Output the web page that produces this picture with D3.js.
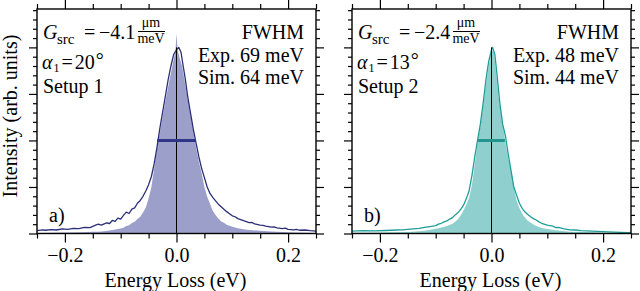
<!DOCTYPE html>
<html>
<head>
<meta charset="utf-8">
<script src="https://cdn.jsdelivr.net/npm/d3@7"></script>
<style>
  body { margin: 0; background: #fff; }
  svg { display: block; font-family: "Liberation Serif", "Times New Roman", serif; }
</style>
</head>
<body>
<div id="chart"></div>
<script>
var svgWidth = 640;
var svgHeight = 291;

// Energy axis ticks (eV)
var xMajorTicks = [-0.2, 0.0, 0.2];
var xTickLabels = ["\u22120.2", "0.0", "0.2"];
var xMinorTicks = [-0.25, -0.15, -0.1, -0.05, 0.05, 0.1, 0.15, 0.25];
var yMajorTicks = [0, 0.2, 0.4, 0.6, 0.8];
var yMinorTicks = [0.04, 0.08, 0.12, 0.16, 0.24, 0.28, 0.32, 0.36, 0.44, 0.48, 0.52, 0.56,
                   0.64, 0.68, 0.72, 0.76, 0.84, 0.88, 0.92, 0.96];

// Panel a) experiment (line)
var expEnergyA = [-0.25, -0.24, -0.235, -0.225, -0.215, -0.205, -0.195, -0.185, -0.175, -0.165,
  -0.155, -0.145, -0.14, -0.135, -0.125, -0.12, -0.115, -0.11, -0.105, -0.1, -0.095, -0.09,
  -0.085, -0.08, -0.075, -0.07, -0.065, -0.06, -0.055, -0.05, -0.045, -0.04, -0.035, -0.03,
  -0.025, -0.02, -0.015, -0.01, -0.005, 0, 0.004, 0.008, 0.012, 0.016, 0.02, 0.025, 0.03,
  0.035, 0.04, 0.045, 0.05, 0.055, 0.06, 0.065, 0.07, 0.075, 0.08, 0.085, 0.09, 0.095, 0.1,
  0.105, 0.11, 0.115, 0.12, 0.13, 0.135, 0.14, 0.15, 0.155, 0.16, 0.17, 0.175, 0.18, 0.19,
  0.195, 0.2, 0.21, 0.215, 0.22, 0.23, 0.24, 0.25];
var expIntensityA = [0.012, 0.016, 0.014, 0.017, 0.015, 0.02, 0.018, 0.022, 0.021, 0.026,
  0.025, 0.036, 0.04, 0.036, 0.046, 0.043, 0.056, 0.052, 0.066, 0.062, 0.078, 0.092,
  0.086, 0.105, 0.11, 0.13, 0.142, 0.16, 0.183, 0.21, 0.245, 0.3, 0.37, 0.45,
  0.52, 0.59, 0.66, 0.72, 0.77, 0.79, 0.8, 0.78, 0.72, 0.66, 0.59, 0.52, 0.45,
  0.39, 0.33, 0.28, 0.24, 0.2, 0.172, 0.155, 0.14, 0.126, 0.115, 0.104, 0.094, 0.085, 0.076,
  0.072, 0.064, 0.06, 0.055, 0.047, 0.048, 0.041, 0.036, 0.035, 0.032, 0.027, 0.028, 0.024, 0.021,
  0.023, 0.018, 0.016, 0.018, 0.014, 0.015, 0.012, 0.01];

// Panel a) simulation (filled)
var simEnergyA = [-0.25, -0.2, -0.17, -0.15, -0.14, -0.13, -0.12, -0.11, -0.1, -0.095, -0.09,
  -0.085, -0.08, -0.075, -0.07, -0.065, -0.06, -0.055, -0.05, -0.045, -0.04, -0.035, -0.03,
  -0.025, -0.02, -0.015, -0.01, -0.005, -0.002, 0, 0.002, 0.005, 0.01, 0.015, 0.02, 0.025,
  0.03, 0.035, 0.04, 0.045, 0.05, 0.055, 0.06, 0.065, 0.07, 0.075, 0.08, 0.085, 0.09, 0.1,
  0.11, 0.12, 0.13, 0.15, 0.17, 0.2, 0.25];
var simIntensityA = [0.002, 0.004, 0.005, 0.007, 0.008, 0.01, 0.013, 0.017, 0.022, 0.025, 0.032,
  0.036, 0.045, 0.05, 0.062, 0.072, 0.09, 0.112, 0.15, 0.2, 0.28, 0.36, 0.43,
  0.5, 0.57, 0.63, 0.69, 0.75, 0.78, 0.86, 0.79, 0.76, 0.72, 0.65, 0.58, 0.51,
  0.44, 0.37, 0.31, 0.26, 0.2, 0.158, 0.128, 0.098, 0.08, 0.064, 0.052, 0.046, 0.038, 0.029,
  0.023, 0.018, 0.015, 0.012, 0.009, 0.005, 0.002];

// Panel b) experiment (line)
var expEnergyB = [-0.25, -0.23, -0.21, -0.19, -0.17, -0.16, -0.15, -0.14, -0.13, -0.12, -0.11,
  -0.1, -0.095, -0.09, -0.085, -0.08, -0.075, -0.07, -0.065, -0.06, -0.055, -0.05, -0.045,
  -0.04, -0.035, -0.03, -0.025, -0.02, -0.015, -0.01, -0.005, 0, 0.002, 0.006, 0.01, 0.015,
  0.02, 0.025, 0.03, 0.035, 0.04, 0.045, 0.05, 0.055, 0.06, 0.065, 0.07, 0.075, 0.08, 0.085,
  0.09, 0.1, 0.11, 0.115, 0.12, 0.13, 0.14, 0.15, 0.16, 0.18, 0.2, 0.22, 0.245, 0.25];
var expIntensityB = [0.01, 0.012, 0.011, 0.013, 0.015, 0.016, 0.018, 0.02, 0.022, 0.026, 0.03,
  0.034, 0.04, 0.044, 0.05, 0.054, 0.062, 0.068, 0.08, 0.09, 0.105, 0.122, 0.15,
  0.185, 0.25, 0.33, 0.4, 0.47, 0.56, 0.66, 0.74, 0.79, 0.8, 0.77, 0.68, 0.56,
  0.47, 0.42, 0.34, 0.27, 0.2, 0.165, 0.13, 0.108, 0.092, 0.082, 0.072, 0.064, 0.058, 0.05,
  0.044, 0.036, 0.032, 0.025, 0.026, 0.02, 0.016, 0.015, 0.012, 0.01, 0.008, 0.006, 0.004, 0.005];

// Panel b) simulation (filled)
var simEnergyB = [-0.25, -0.2, -0.15, -0.13, -0.12, -0.11, -0.1, -0.09, -0.08, -0.07, -0.065,
  -0.06, -0.055, -0.05, -0.045, -0.04, -0.035, -0.03, -0.025, -0.02, -0.015, -0.01, -0.005,
  0, 0.004, 0.008, 0.013, 0.018, 0.022, 0.027, 0.032, 0.036, 0.04, 0.045, 0.05, 0.057,
  0.065, 0.078, 0.09, 0.108, 0.14, 0.17, 0.2, 0.25];
var simIntensityB = [0.003, 0.004, 0.006, 0.01, 0.012, 0.016, 0.02, 0.026, 0.032, 0.042, 0.05,
  0.062, 0.078, 0.1, 0.125, 0.155, 0.21, 0.3, 0.39, 0.46, 0.55, 0.64, 0.72,
  0.79, 0.78, 0.7, 0.58, 0.5, 0.44, 0.36, 0.3, 0.257, 0.2, 0.142, 0.11, 0.077,
  0.055, 0.034, 0.024, 0.016, 0.008, 0.006, 0.004, 0.002];

// FWHM of experiment (eV), drawn at half maximum
var fwhmExp = [0.069, 0.048];
var halfMax = [0.4, 0.4];
var peakTop = [0.8, 0.8];

var panels = [
  { left: 37, label: "a)", g: "\u22124.1", alpha: "20", setup: "Setup 1",
    exp: "Exp. 69 meV", sim: "Sim. 64 meV",
    expE: expEnergyA, expI: expIntensityA, simE: simEnergyA, simI: simIntensityA,
    line: "#2b2f78", fill: "#9b9fc9", bar: "#2f3587" },
  { left: 352, label: "b)", g: "\u22122.4", alpha: "13", setup: "Setup 2",
    exp: "Exp. 48 meV", sim: "Sim. 44 meV",
    expE: expEnergyB, expI: expIntensityB, simE: simEnergyB, simI: simIntensityB,
    line: "#1f9e98", fill: "#8fd0ce", bar: "#22958f" }
];

var plotW = 279;
var plotTop = 9;
var plotBottom = 233.5;

var svg = d3.select("#chart")
  .append("svg")
  .attr("width", svgWidth)
  .attr("height", svgHeight);

var yScale = d3.scaleLinear()
  .domain([0, 0.965])
  .range([plotBottom, plotTop]);

panels.forEach(function(p, i) {
  var xScale = d3.scaleLinear()
    .domain([-0.25, 0.25])
    .range([p.left, p.left + plotW]);

  var clipId = "clip" + i;
  svg.append("clipPath").attr("id", clipId)
    .append("rect")
    .attr("x", p.left).attr("y", plotTop)
    .attr("width", plotW).attr("height", plotBottom - plotTop);

  var plot = svg.append("g").attr("clip-path", "url(#" + clipId + ")");

  var simData = p.simE.map((e, k) => ({ e: e, v: p.simI[k] }));
  var expData = p.expE.map((e, k) => ({ e: e, v: p.expI[k] }));

  plot.append("path")
    .datum(simData)
    .attr("fill", p.fill)
    .attr("d", d3.area().x(d => xScale(d.e)).y0(yScale(0)).y1(d => yScale(d.v)));

  plot.append("path")
    .datum(expData)
    .attr("fill", "none")
    .attr("stroke", p.line)
    .attr("stroke-width", 1.3)
    .attr("stroke-linejoin", "round")
    .attr("d", d3.line().x(d => xScale(d.e)).y(d => yScale(d.v)));

  // zero line
  plot.append("line")
    .attr("x1", xScale(0)).attr("x2", xScale(0))
    .attr("y1", yScale(0)).attr("y2", yScale(peakTop[i]))
    .attr("stroke", "#000")
    .attr("stroke-width", 1);

  // FWHM bar
  plot.append("line")
    .attr("x1", xScale(-fwhmExp[i] / 2)).attr("x2", xScale(fwhmExp[i] / 2))
    .attr("y1", yScale(halfMax[i])).attr("y2", yScale(halfMax[i]))
    .attr("stroke", p.bar)
    .attr("stroke-width", 3);

  // axes
  var axes = [
    { gen: d3.axisBottom, y: plotBottom, major: xMajorTicks, minor: xMinorTicks, labels: true },
    { gen: d3.axisTop, y: plotTop, major: xMajorTicks, minor: xMinorTicks, labels: false }
  ];
  axes.forEach(function(a) {
    var gMaj = svg.append("g")
      .attr("transform", `translate(0, ${a.y})`)
      .call(a.gen(xScale).tickValues(a.major).tickSize(9).tickPadding(5)
        .tickFormat(a.labels ? (d, k) => xTickLabels[k] : ""));
    var gMin = svg.append("g")
      .attr("transform", `translate(0, ${a.y})`)
      .call(a.gen(xScale).tickValues(a.minor).tickSize(5).tickFormat(""));
    [gMaj, gMin].forEach(function(g) {
      g.select(".domain").remove();
      g.selectAll("line").attr("stroke", "#000").attr("stroke-width", 1.2);
      g.selectAll("text").attr("font-size", 20).attr("font-family", "Liberation Serif").attr("fill", "#000");
    });
  });

  [{ gen: d3.axisLeft, x: p.left }, { gen: d3.axisRight, x: p.left + plotW }].forEach(function(a) {
    var gMaj = svg.append("g")
      .attr("transform", `translate(${a.x}, 0)`)
      .call(a.gen(yScale).tickValues(yMajorTicks).tickSize(8).tickFormat(""));
    var gMin = svg.append("g")
      .attr("transform", `translate(${a.x}, 0)`)
      .call(a.gen(yScale).tickValues(yMinorTicks).tickSize(4).tickFormat(""));
    [gMaj, gMin].forEach(function(g) {
      g.select(".domain").remove();
      g.selectAll("line").attr("stroke", "#000").attr("stroke-width", 1.2);
    });
  });

  // frame
  svg.append("rect")
    .attr("x", p.left).attr("y", plotTop)
    .attr("width", plotW).attr("height", plotBottom - plotTop)
    .attr("fill", "none")
    .attr("stroke", "#000")
    .attr("stroke-width", 1.4);

  // annotations
  var ox = p.left;
  var ann = svg.append("g").attr("font-size", 20).attr("fill", "#000");
  ann.append("text").attr("x", ox + 6).attr("y", 39).attr("font-style", "italic").text("G");
  ann.append("text").attr("x", ox + 20).attr("y", 44).attr("font-size", 15).text("src");
  ann.append("text").attr("x", ox + 47).attr("y", 39).text("=");
  ann.append("text").attr("x", ox + 62).attr("y", 39).text(p.g);
  ann.append("text").attr("x", ox + 114).attr("y", 27).attr("font-size", 14)
    .attr("text-anchor", "middle").text("\u03bcm");
  ann.append("line")
    .attr("x1", ox + 101).attr("x2", ox + 128).attr("y1", 31.5).attr("y2", 31.5)
    .attr("stroke", "#000").attr("stroke-width", 1);
  ann.append("text").attr("x", ox + 114).attr("y", 43).attr("font-size", 14)
    .attr("text-anchor", "middle").text("meV");

  // alpha_1 = NN degrees, one text with tspans
  var alphaText = ann.append("text").attr("x", ox + 5).attr("y", 69);
  alphaText.append("tspan").attr("font-style", "italic").text("\u03b1");
  alphaText.append("tspan").attr("font-size", 12).attr("dy", 2.5).attr("dx", 1).text("1");
  alphaText.append("tspan").attr("dy", -2.5).attr("dx", 2).text("=");
  alphaText.append("tspan").attr("dx", 2).text(p.alpha);
  alphaText.append("tspan").attr("dy", -2).attr("dx", 1).text("\u00b0");

  ann.append("text").attr("x", ox + 6).attr("y", 93).text(p.setup);

  ann.append("text").attr("x", ox + 267).attr("y", 39).attr("text-anchor", "end").text("FWHM");
  ann.append("text").attr("x", ox + 267).attr("y", 62).attr("text-anchor", "end").text(p.exp);
  ann.append("text").attr("x", ox + 267).attr("y", 84).attr("text-anchor", "end").text(p.sim);

  ann.append("text").attr("x", ox + 12).attr("y", 222).text(p.label);

  // x axis title
  svg.append("text")
    .attr("x", p.left + plotW / 2 - 1)
    .attr("y", 287)
    .attr("text-anchor", "middle")
    .attr("font-size", 20)
    .text("Energy Loss (eV)");
});

// y axis title
svg.append("text")
  .attr("transform", "translate(17, 116) rotate(-90)")
  .attr("text-anchor", "middle")
  .attr("font-size", 20)
  .text("Intensity (arb. units)");
</script>
</body>
</html>
